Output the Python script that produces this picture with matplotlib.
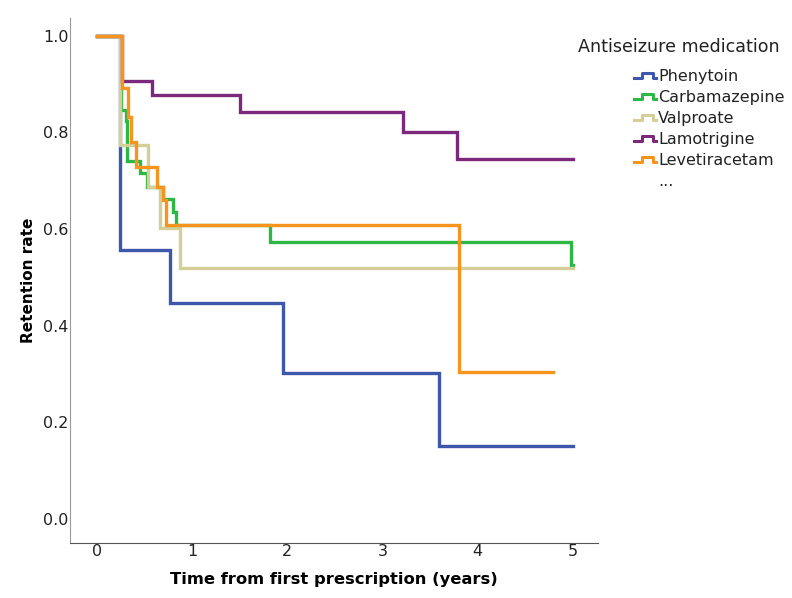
import matplotlib
matplotlib.use('Agg')
from matplotlib import pyplot as plt
from matplotlib.lines import Line2D
from matplotlib.legend_handler import HandlerBase

# Kaplan-Meier style retention curves
# (time in years, retention rate), last point = end of follow-up
phenytoin_t = [0, 0.24, 0.77, 1.96, 3.60, 5.0]
phenytoin_s = [1.0, 0.556, 0.447, 0.302, 0.151, 0.151]

carbamazepine_t = [0, 0.25, 0.30, 0.31, 0.45, 0.53, 0.69, 0.80, 0.83, 1.82, 4.98, 5.0]
carbamazepine_s = [1.0, 0.847, 0.823, 0.740, 0.715, 0.687, 0.662, 0.636, 0.609, 0.573, 0.526, 0.526]

valproate_t = [0, 0.24, 0.54, 0.66, 0.87, 5.0]
valproate_s = [1.0, 0.774, 0.687, 0.602, 0.520, 0.520]

lamotrigine_t = [0, 0.26, 0.58, 1.50, 3.22, 3.78, 5.0]
lamotrigine_s = [1.0, 0.907, 0.878, 0.843, 0.800, 0.745, 0.745]

levetiracetam_t = [0, 0.26, 0.33, 0.355, 0.41, 0.63, 0.69, 0.73, 3.81, 4.79]
levetiracetam_s = [1.0, 0.892, 0.832, 0.781, 0.729, 0.687, 0.660, 0.609, 0.304, 0.304]

names = ['Phenytoin', 'Carbamazepine', 'Valproate', 'Lamotrigine', 'Levetiracetam']
colors = ['#3D57AB', '#2DB846', '#D4CF98', '#7B287D', '#F7941E']
curves = [(phenytoin_t, phenytoin_s), (carbamazepine_t, carbamazepine_s),
          (valproate_t, valproate_s), (lamotrigine_t, lamotrigine_s),
          (levetiracetam_t, levetiracetam_s)]


class StepHandler(HandlerBase):
    # little step-shaped legend key like the SPSS one
    def create_artists(self, legend, orig_handle, xdescent, ydescent,
                       width, height, fontsize, trans):
        x0, y0 = -xdescent, -ydescent
        xs = [0, 0.35, 0.35, 0.85, 0.85, 1.0]
        ys = [0.25, 0.25, 0.75, 0.75, 0.25, 0.25]
        ln = Line2D([x0 + v * width for v in xs], [y0 + v * height for v in ys],
                    color=orig_handle.get_color(), lw=2.2, transform=trans)
        ln.set_visible(orig_handle.get_visible())
        return [ln]


fig = plt.figure(figsize=(7.92, 5.98), dpi=100)
ax = fig.add_axes([0.0884, 0.092, 0.667, 0.878])

for (t, s), c, n in zip(curves, colors, names):
    ax.step(t, s, where='post', color=c, lw=2.4, label=n, solid_joinstyle='miter')

ax.set_xlim(-0.284, 5.27)
ax.set_ylim(-0.05, 1.037)
ax.set_xticks([0, 1, 2, 3, 4, 5])
ax.set_yticks([0.0, 0.2, 0.4, 0.6, 0.8, 1.0])
ax.set_yticklabels(['0.0', '0.2', '0.4', '0.6', '0.8', '1.0'])
ax.tick_params(length=0, labelsize=11.5, labelcolor='#222222', pad=1)

ax.spines['right'].set_visible(False)
ax.spines['top'].set_visible(False)
ax.spines['left'].set_color('#999999')
ax.spines['bottom'].set_color('#555555')

ax.set_xlabel('Time from first prescription (years)', fontsize=11.8, fontweight='bold', labelpad=9)
ax.set_ylabel('Retention rate', fontsize=11, fontweight='bold', labelpad=5)

handles = [Line2D([], [], color=c) for c in colors]
dots = Line2D([], [], color='white')
dots.set_visible(False)
handles.append(dots)
labels = names + ['...']

fig.text(578 / 792, 1 - 47 / 598, 'Antiseizure medication', fontsize=12.6,
         ha='left', va='center', color='#222222')
fig.legend(handles, labels, handler_map={Line2D: StepHandler()},
           loc='upper left', bbox_to_anchor=(634 / 792, 1 - 69 / 598),
           frameon=False, borderpad=0, borderaxespad=0, fontsize=11.5,
           handlelength=1.4, handletextpad=0.12, labelspacing=0.38,
           labelcolor='#222222')

plt.savefig('out.png', dpi=100)
